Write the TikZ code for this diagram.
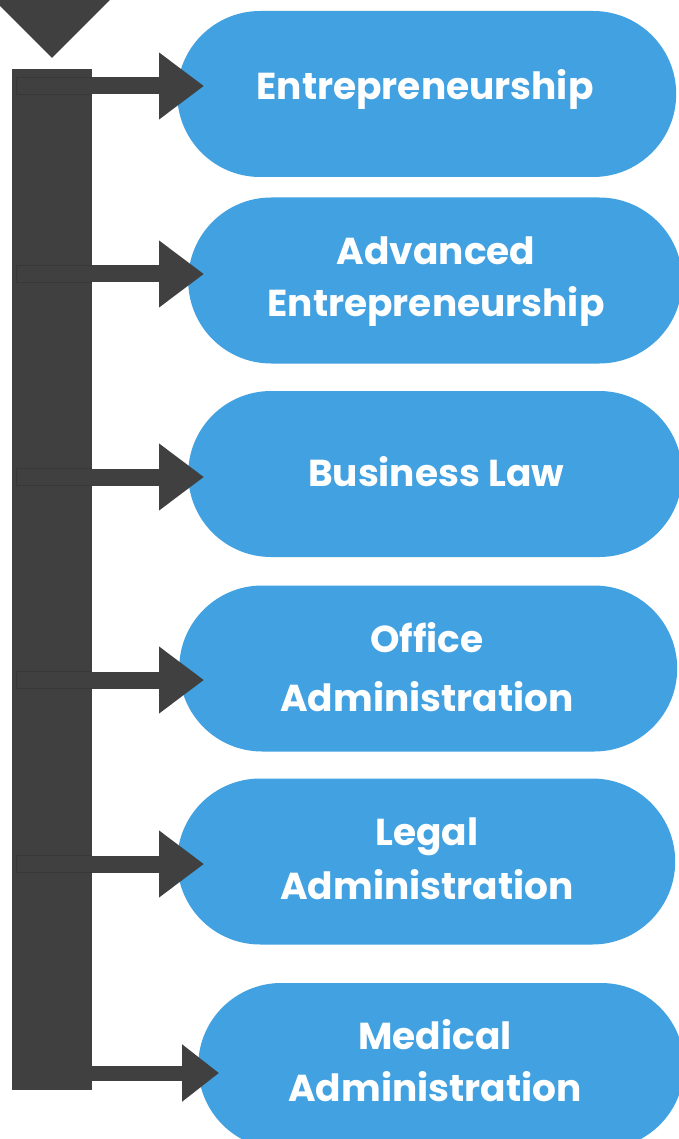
\documentclass[tikz,border=0pt]{standalone}
\usepackage{fontspec}
\setmainfont{Poppins}
\usetikzlibrary{arrows.meta,shapes.misc}
\definecolor{boxblue}{HTML}{41A1E1}
\definecolor{darkg}{HTML}{404040}
\definecolor{edgeg}{HTML}{383838}
\begin{document}
\begin{tikzpicture}[x=1pt,y=-1pt,
  pill/.style={fill=boxblue, draw=none, rounded rectangle, minimum height=166pt, inner sep=0pt, anchor=west},
  lbl/.style={text=white, font=\fontsize{37.5}{52}\selectfont\bfseries, align=center, inner sep=0pt},
  barstyle/.style={fill=darkg, draw=none, minimum width=80pt, minimum height=1021pt, anchor=north west, inner sep=0pt},
  conn/.style={darkg, line width=17pt, -{Triangle[length=45pt,width=64pt]}},
  seam/.style={draw=edgeg, line width=0.5pt}
]
\useasboundingbox (0,0) rectangle (678,1139);
% top triangle
\fill[darkg] (-6,0) -- (110,0) -- (52,58) -- cycle;
% vertical bar
\node[barstyle] (bar) at (12,69) {};
% boxes
\node[pill, minimum width=499pt] (b1) at (177,94) {};
\node[pill, minimum width=494pt] (b2) at (188,280.5) {};
\node[pill, minimum width=494pt] (b3) at (188,474) {};
\node[pill, minimum width=498pt] (b4) at (179,668.5) {};
\node[pill, minimum width=498pt] (b5) at (177,861.5) {};
\node[pill, minimum width=486pt] (b6) at (198,1066) {};
% labels
\node[lbl] (t1) at (425,89.5) {Entrepreneurship};
\node[lbl] (t2) at (436,281.5) {Advanced\\Entrepreneurship};
\node[lbl] (t3) at (436,472) {Business Law};
\node[lbl] (t4) at (427,667.5) {Office\\[7pt]Administration};
\node[lbl] (t5) at (427,859) {Legal\\[2pt]Administration};
\node[lbl] (t6) at (435,1061) {Medical\\Administration};
% arrow tips
\coordinate (e1) at (204,86);
\coordinate (e2) at (204,274);
\coordinate (e3) at (204,477);
\coordinate (e4) at (204,680);
\coordinate (e5) at (204,864);
\coordinate (e6) at (219,1073);
% seams inside the bar
\foreach \i in {1,...,5}{
  \draw[seam] (bar.west |- e\i) ++(4,-8.5) -- ++(76,0);
  \draw[seam] (bar.west |- e\i) ++(4,-8.5) -- ++(0,17) -- ++(76,0);
}
% connectors
\draw[conn] (bar.east |- e1) -- (e1);
\draw[conn] (bar.east |- e2) -- (e2);
\draw[conn] (bar.east |- e3) -- (e3);
\draw[conn] (bar.east |- e4) -- (e4);
\draw[conn] (bar.east |- e5) -- (e5);
\draw[darkg, line width=15pt, -{Triangle[length=37pt,width=55pt]}] (bar.east |- e6) -- (e6);
\end{tikzpicture}
\end{document}
